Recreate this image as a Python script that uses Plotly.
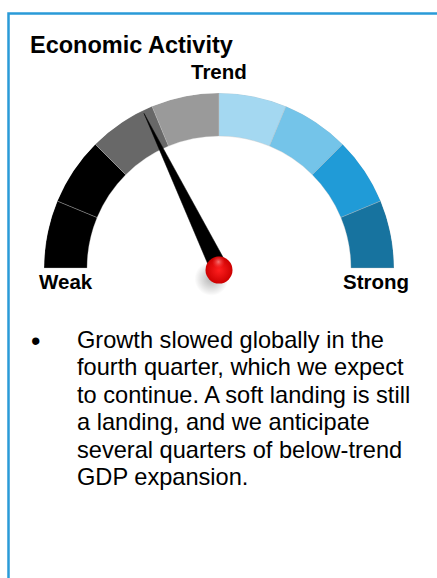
import plotly.graph_objects as go

# ---- gauge data -------------------------------------------------------
zone_colors = ["#000000", "#000000", "#686868", "#9A9A9A",
               "#A4D8F1", "#74C4E9", "#209BD7", "#17739F"]
zone_starts = [0, 1, 2, 3, 4, 5, 6, 7]      # gauge units, Weak = 0 ... Strong = 8
zone_size = 1
gauge_max = 8
needle_value = 2.85

scale_labels = ["Weak", "Trend", "Strong"]
title_text = "Economic Activity"
body_lines = [
    "Growth slowed globally in the",
    "fourth quarter, which we expect",
    "to continue. A soft landing is still",
    "a landing, and we anticipate",
    "several quarters of below-trend",
    "GDP expansion.",
]

# ---- geometry helpers ----------------------------------------------------
W, H = 437, 578
FONT = "Arial, 'Liberation Sans', sans-serif"


def px(x):
    return x / W


def py(y):
    return 1 - y / H


deg_per_unit = 180 / gauge_max
inner_r = 0.754          # band inner radius as a share of the outer radius

fig = go.Figure()

# coloured bands (upper half of a full polar disc)
fig.add_trace(go.Barpolar(
    theta=[(s + zone_size / 2) * deg_per_unit for s in zone_starts],
    width=[zone_size * deg_per_unit] * len(zone_starts),
    r=[1 - inner_r] * len(zone_starts),
    base=[inner_r] * len(zone_starts),
    marker=dict(color=zone_colors,
                line=dict(color="rgba(190,190,190,0.55)", width=0.6)),
    hoverinfo="skip",
    showlegend=False,
))

# needle
v = needle_value * deg_per_unit
half_base = 0.05
fig.add_trace(go.Scatterpolar(
    r=[half_base, 0.982, half_base, half_base],
    theta=[v - 90, v, v + 90, v - 90],
    mode="lines",
    fill="toself",
    fillcolor="#000000",
    line=dict(color="#000000", width=0.5),
    hoverinfo="skip",
    showlegend=False,
))

# hub shadow, down and to the left (radial gradient: gradient.color is the centre colour)
fig.add_trace(go.Scatterpolar(
    r=[0.075], theta=[305],
    mode="markers",
    marker=dict(size=34, color="rgba(0,0,0,0)",
                gradient=dict(type="radial", color="rgba(0,0,0,0.30)"),
                line=dict(width=0)),
    hoverinfo="skip",
    showlegend=False,
))

# hub ball
fig.add_trace(go.Scatterpolar(
    r=[0.012], theta=[270],
    mode="markers",
    marker=dict(size=27, color="#CC0000",
                gradient=dict(type="radial", color="#FF1F1F"),
                line=dict(width=0)),
    hoverinfo="skip",
    showlegend=False,
))

# hub highlight
fig.add_trace(go.Scatterpolar(
    r=[0.035], theta=[85],
    mode="markers",
    marker=dict(size=13, color="rgba(255,60,60,0)",
                gradient=dict(type="radial", color="rgba(255,160,160,0.7)"),
                line=dict(width=0)),
    hoverinfo="skip",
    showlegend=False,
))

# ---- text ----------------------------------------------------------------
ann = []
ann.append(dict(text=f"<b>{title_text}</b>", x=px(28), y=py(45), xanchor="left",
                yanchor="middle", font=dict(size=23.5)))
ann.append(dict(text=f"<b>{scale_labels[1]}</b>", x=px(218.5), y=py(71.5),
                xanchor="center", yanchor="middle", font=dict(size=20.5)))
ann.append(dict(text=f"<b>{scale_labels[0]}</b>", x=px(66), y=py(282),
                xanchor="center", yanchor="middle", font=dict(size=20.5)))
ann.append(dict(text=f"<b>{scale_labels[2]}</b>", x=px(375.5), y=py(282),
                xanchor="center", yanchor="middle", font=dict(size=20.5)))
ann.append(dict(text="•", x=px(35), y=py(341), xanchor="center",
                yanchor="middle", font=dict(size=27)))
for i, line in enumerate(body_lines):
    ann.append(dict(text=line, x=px(75), y=py(339.5 + 27.5 * i), xanchor="left",
                    yanchor="middle", font=dict(size=23.6)))
for a in ann:
    a.update(xref="paper", yref="paper", showarrow=False)
    a["font"].update(family=FONT, color="#000000")

fig.update_layout(
    width=W, height=H,
    margin=dict(l=0, r=0, t=0, b=0),
    paper_bgcolor="#FFFFFF",
    plot_bgcolor="#FFFFFF",
    showlegend=False,
    annotations=ann,
    polar=dict(
        domain=dict(x=[px(44), px(394)], y=[py(443), py(93)]),
        hole=0,
        bargap=0,
        bgcolor="rgba(0,0,0,0)",
        radialaxis=dict(range=[0, 1], visible=False, showgrid=False),
        angularaxis=dict(visible=False, showgrid=False, rotation=180,
                         direction="clockwise", thetaunit="degrees"),
    ),
    shapes=[dict(type="rect", xref="paper", yref="paper",
                 x0=px(8.5), x1=px(460), y0=py(620), y1=py(13.5),
                 line=dict(color="#2A9BD8", width=2.5), fillcolor="rgba(0,0,0,0)",
                 layer="below")],
)

fig.write_html("out.html")
